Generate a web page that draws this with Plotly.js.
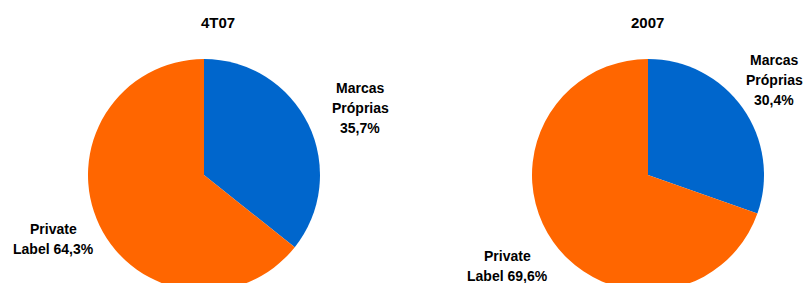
<!DOCTYPE html>
<html>
<head>
<meta charset="utf-8">
<script src="https://cdn.plot.ly/plotly-3.0.1.min.js"></script>
<style>
html,body{margin:0;padding:0;background:#fff;overflow:hidden;}
#chart{width:812px;height:300px;}
</style>
</head>
<body>
<div id="chart"></div>
<script>
// Data
var categories = ["Marcas Próprias", "Private Label"];
var titles = ["4T07", "2007"];
var values4T07 = [35.7, 64.3];
var values2007 = [30.4, 69.6];
var labelLines4T07 = [["Marcas", "Próprias", "35,7%"], ["Private", "Label 64,3%"]];
var labelLines2007 = [["Marcas", "Próprias", "30,4%"], ["Private", "Label 69,6%"]];
var colors = ["#0066CC", "#FF6600"];

var W = 812, H = 300;
function px(x){ return x / W; }
function py(y){ return 1 - y / H; }

var font = {family: "Liberation Sans, Arial, sans-serif", size: 14, color: "#000"};

function pie(vals, cx, cy, r){
  return {
    type: "pie",
    labels: categories,
    values: vals,
    sort: false,
    direction: "clockwise",
    rotation: 0,
    textinfo: "none",
    hoverinfo: "label+percent",
    marker: {colors: colors, line: {width: 0}},
    domain: {x: [px(cx - r), px(cx + r)], y: [py(cy + r), py(cy - r)]},
    showlegend: false
  };
}

var annotations = [];
function addLines(lines, x, y0, dy){
  lines.forEach(function(t, i){
    annotations.push({
      text: "<b>" + t + "</b>", x: px(x), y: py(y0 + i * dy),
      xref: "paper", yref: "paper", xanchor: "center", yanchor: "middle",
      showarrow: false, font: font
    });
  });
}
addLines(labelLines4T07[0], 360, 88, 20);
addLines(labelLines4T07[1], 53, 229, 20);
addLines(labelLines2007[0], 774, 60, 20);
addLines(labelLines2007[1], 507, 256, 20);

annotations.push({text: "<b>" + titles[0] + "</b>", x: px(218), y: py(22), xref: "paper", yref: "paper",
  xanchor: "center", yanchor: "middle", showarrow: false,
  font: {family: "Liberation Sans, Arial, sans-serif", size: 15, color: "#000"}});
annotations.push({text: "<b>" + titles[1] + "</b>", x: px(647), y: py(22), xref: "paper", yref: "paper",
  xanchor: "center", yanchor: "middle", showarrow: false,
  font: {family: "Liberation Sans, Arial, sans-serif", size: 15, color: "#000"}});

var data = [pie(values4T07, 204, 175, 116), pie(values2007, 648, 175, 116)];
var layout = {
  width: W, height: H,
  margin: {l: 0, r: 0, t: 0, b: 0},
  paper_bgcolor: "#fff", plot_bgcolor: "#fff",
  annotations: annotations
};
Plotly.newPlot("chart", data, layout, {displayModeBar: false, staticPlot: true});
</script>
</body>
</html>
